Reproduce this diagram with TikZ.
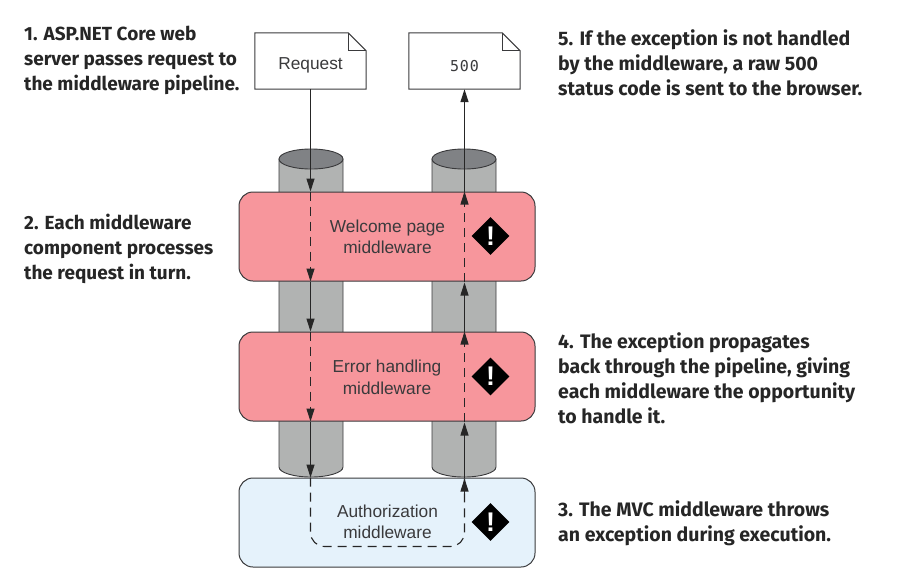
\documentclass[tikz,border=0pt]{standalone}
\usepackage{fontspec}
\setmainfont{Liberation Sans}
\newfontfamily\notefont{Fira Sans}[UprightFont=*-Bold]
\newfontfamily\codefont{DejaVu Sans Mono}[LetterSpace=6]
\usetikzlibrary{arrows.meta,shapes.geometric,calc}
\definecolor{ink}{HTML}{3A3A3C}
\definecolor{pinkbox}{HTML}{F7969C}
\definecolor{bluebox}{HTML}{E5F2FB}
\definecolor{cylbody}{HTML}{B1B3B2}
\definecolor{cyltop}{HTML}{808285}
\tikzset{
  x=1pt,y=-1pt,
  note/.style={anchor=north west,align=left,inner sep=0pt,font=\notefont\fontsize{19}{25}\selectfont,text=black!85},
  noteright/.style={note,font=\notefont\fontsize{19.5}{25}\selectfont},
  docbox/.style={minimum width=111pt,minimum height=56pt,inner sep=0pt,text=ink},
  docline/.style={draw=ink,line width=1pt,fill=white,line join=miter},
  midbox/.style={rounded corners=14pt,draw=ink,line width=1pt,minimum width=296pt,minimum height=89pt,inner sep=0pt},
  pinkmid/.style={midbox,fill=pinkbox},
  bluemid/.style={midbox,fill=bluebox},
  midtext/.style={text=ink,align=center,font=\fontsize{17.3}{21.5}\selectfont},
  cyl/.style={draw=ink,line width=0.9pt,fill=cylbody},
  cylcap/.style={draw=ink,line width=0.9pt,fill=cyltop},
  warn/.style={diamond,fill=black,minimum width=38pt,minimum height=38pt,aspect=1,inner sep=0pt,text=white,font=\bfseries\fontsize{27}{27}\selectfont},
  flow/.style={draw=black!85,line width=1.1pt},
  flowdash/.style={flow,dash pattern=on 9pt off 6pt},
  tip/.style={-{Triangle[length=13pt,width=8pt]}},
}
\begin{document}
\begin{tikzpicture}
\useasboundingbox (0,0) rectangle (907,579);
% cylinders
\foreach \cx in {311,464}{
  \draw[cyl] (\cx-32,159) -- (\cx-32,467) arc[start angle=180,end angle=360,x radius=32,y radius=-10] -- (\cx+32,159) -- cycle;
  \draw[cylcap] (\cx,159) ellipse[x radius=32,y radius=10];
}
% documents
\node[docbox] (req) at (310.5,61) {};
\node[docbox] (res) at (464.5,61) {};
\foreach \d in {req,res}{
  \draw[docline] (\d.north west) -- ($(\d.north east)+(-18,0)$) -- ($(\d.north east)+(0,18)$) -- (\d.south east) -- (\d.south west) -- cycle;
  \draw[docline,fill=none] ($(\d.north east)+(-18,0)$) -- ($(\d.north east)+(-18,18)$) -- ($(\d.north east)+(0,18)$);
}
\node[text=ink,font=\fontsize{17.3}{17}\selectfont] (reqt) at (req) [yshift=-4pt] {Request};
\node[text=ink,font=\codefont\fontsize{15}{15}\selectfont] (rest) at ($(res)+(0,5)$) {500};
% middleware boxes
\node[pinkmid] (wel) at (387,236.5) {};
\node[pinkmid] (err) at (387,376.5) {};
\node[bluemid] (aut) at (387,522.5) {};
\node[midtext] (welt) at (387.5,237) {Welcome page\\middleware};
\node[midtext] (errt) at (387,377.5) {Error handling\\middleware};
\node[midtext] (autt) at (387.5,522) {Authorization\\middleware};
\node[warn] (w1) at (490.5,236) {!};
\node[warn] (w2) at (490.5,376.5) {!};
\node[warn] (w3) at (490.5,522) {!};
% request path
\coordinate (lw) at (wel.north -| req.south);
\coordinate (ls) at (wel.south -| req.south);
\coordinate (le) at (err.north -| req.south);
\coordinate (lf) at (err.south -| req.south);
\coordinate (la) at (aut.north -| req.south);
\coordinate (rw) at (wel.north -| res.south);
\coordinate (rs) at (wel.south -| res.south);
\coordinate (re) at (err.north -| res.south);
\coordinate (rf) at (err.south -| res.south);
\coordinate (ra) at (aut.north -| res.south);
\draw[flow,tip] (req.south) -- (lw);
\draw[flowdash] (lw) -- (ls);
\draw[flow,tip] ($(ls)+(0,-14)$) -- (ls);
\draw[flow,tip] (ls) -- (le);
\draw[flowdash] (le) -- (lf);
\draw[flow,tip] ($(lf)+(0,-14)$) -- (lf);
\draw[flow,tip] (lf) -- (la);
\draw[flowdash,rounded corners=14pt] (la) -- ($(la)+(0,69)$) -- ($(ra)+(0,69)$) -- (ra);
\draw[flow,tip] ($(ra)+(0,16)$) -- ($(ra)+(0,1)$);
\draw[flow,tip] (ra) -- ($(rf)+(0,1)$);
\draw[flowdash] (rf) -- (re);
\draw[flow,tip] ($(re)+(0,15)$) -- (re);
\draw[flow,tip] (re) -- ($(rs)+(0,1)$);
\draw[flowdash] (rs) -- (rw);
\draw[flow,tip] ($(rw)+(0,15)$) -- (rw);
\draw[flow,tip] (rw) -- (res.south);
% notes
\node[note] (n1) at (24,25.5) {1. ASP.NET Core web\\server passes request to\\the middleware pipeline.};
\node[note] (n2) at (24,214) {2. Each middleware\\component processes\\the request in turn.};
\node[noteright] (n3) at (558,500.5) {3. The MVC middleware throws\\an exception during execution.};
\node[noteright] (n4) at (558,332) {4. The exception propagates\\back through the pipeline, giving\\each middleware the opportunity\\to handle it.};
\node[noteright] (n5) at (558,29) {5. If the exception is not handled\\by the middleware, a raw 500\\status code is sent to the browser.};
\end{tikzpicture}
\end{document}
